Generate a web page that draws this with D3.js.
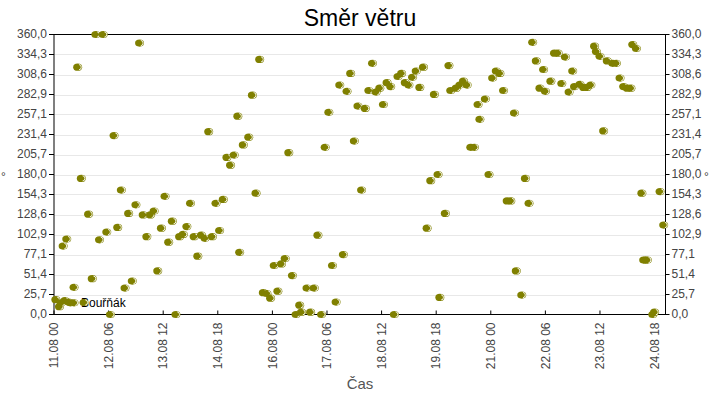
<!DOCTYPE html>
<html>
<head>
<meta charset="utf-8">
<script src="https://cdn.jsdelivr.net/npm/d3@7"></script>
<style>
  body { margin: 0; background: #fff; }
  svg text { font-family: "Liberation Sans", Arial, sans-serif; }
</style>
</head>
<body>
<svg id="chart" width="720" height="400"></svg>
<script>
// data: time of reading + wind direction in degrees
const seriesName = "Bouřňák";
const times = [
  "11.08 01","11.08 03","11.08 04","11.08 05","11.08 06","11.08 07","11.08 08","11.08 09","11.08 11","11.08 11",
  "11.08 13","11.08 15","11.08 19","11.08 21","11.08 23","12.08 01","12.08 03","12.08 05","12.08 07","12.08 09",
  "12.08 11","12.08 13","12.08 15","12.08 17","12.08 19","12.08 21","12.08 23","13.08 01","13.08 03","13.08 05",
  "13.08 07","13.08 09","13.08 11","13.08 13","13.08 15","13.08 17","13.08 19","13.08 21","13.08 23","14.08 01",
  "14.08 03","14.08 05","14.08 07","14.08 09","14.08 11","14.08 13","14.08 15","14.08 17","14.08 19","14.08 21",
  "14.08 23","15.08 01","15.08 03","15.08 05","15.08 06","15.08 08","15.08 11","15.08 13","15.08 15","15.08 17",
  "15.08 19","15.08 21","15.08 23","16.08 01","16.08 03","16.08 05","16.08 07","16.08 09","16.08 11","16.08 13",
  "16.08 15","16.08 16","16.08 19","16.08 21","16.08 23","17.08 01","17.08 03","17.08 05","17.08 07","17.08 09",
  "17.08 11","17.08 13","17.08 15","17.08 17","17.08 19","17.08 21","17.08 23","18.08 01","18.08 03","18.08 05",
  "18.08 07","18.08 09","18.08 11","18.08 13","18.08 15","18.08 17","18.08 19","18.08 21","18.08 23","19.08 01",
  "19.08 03","19.08 05","19.08 07","19.08 09","19.08 11","19.08 13","19.08 15","19.08 17","19.08 19","19.08 20",
  "19.08 23","20.08 01","20.08 02","20.08 05","20.08 07","20.08 09","20.08 11","20.08 13","20.08 15","20.08 17",
  "20.08 18","20.08 21","20.08 23","21.08 01","21.08 03","21.08 05","21.08 07","21.08 09","21.08 11","21.08 13",
  "21.08 14","21.08 17","21.08 19","21.08 21","21.08 23","22.08 01","22.08 03","22.08 05","22.08 06","22.08 09",
  "22.08 11","22.08 13","22.08 15","22.08 17","22.08 19","22.08 21","22.08 22","23.08 01","23.08 03","23.08 05",
  "23.08 07","23.08 09","23.08 10","23.08 12","23.08 14","23.08 16","23.08 19","23.08 21","23.08 23","24.08 01",
  "24.08 03","24.08 05","24.08 06","24.08 08","24.08 11","24.08 12","24.08 13","24.08 14","24.08 17","24.08 18",
  "24.08 21","24.08 23"
];
const directions = [
  19,10,15,88,18,97,16,15,15,35,
  318,175,129,46,360,96,360,106,0,230,
  112,160,34,130,43,141,349,128,100,128,
  133,56,111,152,93,120,0,100,103,113,
  143,100,75,102,98,235,100,143,108,148,
  202,192,205,255,80,218,228,282,156,328,
  28,27,21,63,30,65,72,208,50,0,
  12,3,34,3,34,102,0,215,260,63,
  16,295,77,287,310,223,268,160,265,288,
  323,286,291,270,298,293,0,306,310,298,
  295,305,313,292,318,111,172,283,180,22,
  130,320,288,291,295,300,295,215,215,270,
  251,277,180,304,313,310,288,146,146,259,
  56,25,175,143,350,326,291,315,287,300,
  336,336,297,331,286,313,293,296,292,292,
  295,345,338,332,236,326,323,323,304,293,
  291,291,347,342,156,70,70,70,0,3,
  158,115
];
const yTicks = d3.range(15).map(i => i * 360 / 14);
const timeStart = "11.08 00", timeEnd = "25.08 00";
const tickStepHours = 30;

const parse = d3.timeParse("%d.%m %H");
const fmtTime = d3.timeFormat("%d.%m %H");
const fmtDeg = v => d3.format(".1f")(v).replace(".", ",");

const data = times.map((t, i) => ({ t: parse(t), v: directions[i] }));

const svg = d3.select("#chart");
const plotL = 54, plotR = 665.5, plotT = 34.5, plotB = 314.5;
const olive = "#808000";

const x = d3.scaleTime().domain([parse(timeStart), parse(timeEnd)]).range([plotL, plotR]);
const y = d3.scaleLinear().domain([0, 360]).range([plotB, plotT]);

const xTicks = d3.range(12).map(i => d3.timeHour.offset(parse(timeStart), i * tickStepHours));

// horizontal grid
svg.append("g").selectAll("line").data(yTicks.slice(1, -1)).join("line")
  .attr("x1", plotL).attr("x2", plotR)
  .attr("y1", d => Math.round(y(d)) + 0.5).attr("y2", d => Math.round(y(d)) + 0.5)
  .attr("stroke", "#e8e8e8");

// axes
const styleAxis = g => {
  g.select(".domain").remove();
  g.selectAll("line").attr("stroke", "#000");
  g.selectAll("text").attr("fill", "#444").style("font-size", "12px");
};
svg.append("g").attr("transform", `translate(${plotL},0)`)
  .call(d3.axisLeft(y).tickValues(yTicks).tickFormat(fmtDeg).tickSize(5).tickPadding(2).offset(0))
  .call(styleAxis);
svg.append("g").attr("transform", `translate(${plotR},0)`)
  .call(d3.axisRight(y).tickValues(yTicks).tickFormat(fmtDeg).tickSize(4).tickPadding(2).offset(0))
  .call(styleAxis);
const xg = svg.append("g").attr("transform", `translate(0,${plotB})`)
  .call(d3.axisBottom(x).tickValues(xTicks).tickFormat(fmtTime).tickSizeInner(-4).tickSizeOuter(0).offset(0))
  .call(styleAxis);
xg.selectAll("text")
  .attr("transform", "rotate(-90)")
  .attr("text-anchor", "end")
  .attr("x", -8).attr("y", 0).attr("dy", "0.35em");

// frame
svg.append("rect")
  .attr("x", plotL).attr("y", plotT).attr("width", plotR - plotL).attr("height", plotB - plotT)
  .attr("fill", "none").attr("stroke", "#000");

// titles
svg.append("text").attr("x", 360).attr("y", 26).attr("text-anchor", "middle")
  .style("font-size", "23px").attr("fill", "#000").text("Směr větru");
svg.append("text").attr("x", 360).attr("y", 389).attr("text-anchor", "middle")
  .style("font-size", "15px").attr("fill", "#555").text("Čas");
svg.append("text").attr("x", 1).attr("y", 181)
  .style("font-size", "12px").attr("fill", "#444").text("°");
svg.append("text").attr("x", 704).attr("y", 181)
  .style("font-size", "12px").attr("fill", "#444").text("°");

function marker(g) {
  g.append("ellipse").attr("rx", 4.5).attr("ry", 3.6).attr("fill", olive);
  g.append("path").attr("d", "M1.3,-2.6 A2.3,2.6 0 0 1 1.3,2.6")
    .attr("fill", "none").attr("stroke", "#fff").attr("stroke-width", 0.9);
}

// points
svg.append("g").selectAll("g").data(data).join("g")
  .attr("transform", d => `translate(${x(d.t)},${y(d.v)})`)
  .each(function () { marker(d3.select(this)); });

// legend
const lg = svg.append("g");
lg.append("text").attr("x", 81).attr("y", 307).style("font-size", "12px").attr("fill", "#000").text(seriesName);
lg.append("g").attr("transform", "translate(84,302.5)").call(marker);
</script>
</body>
</html>
